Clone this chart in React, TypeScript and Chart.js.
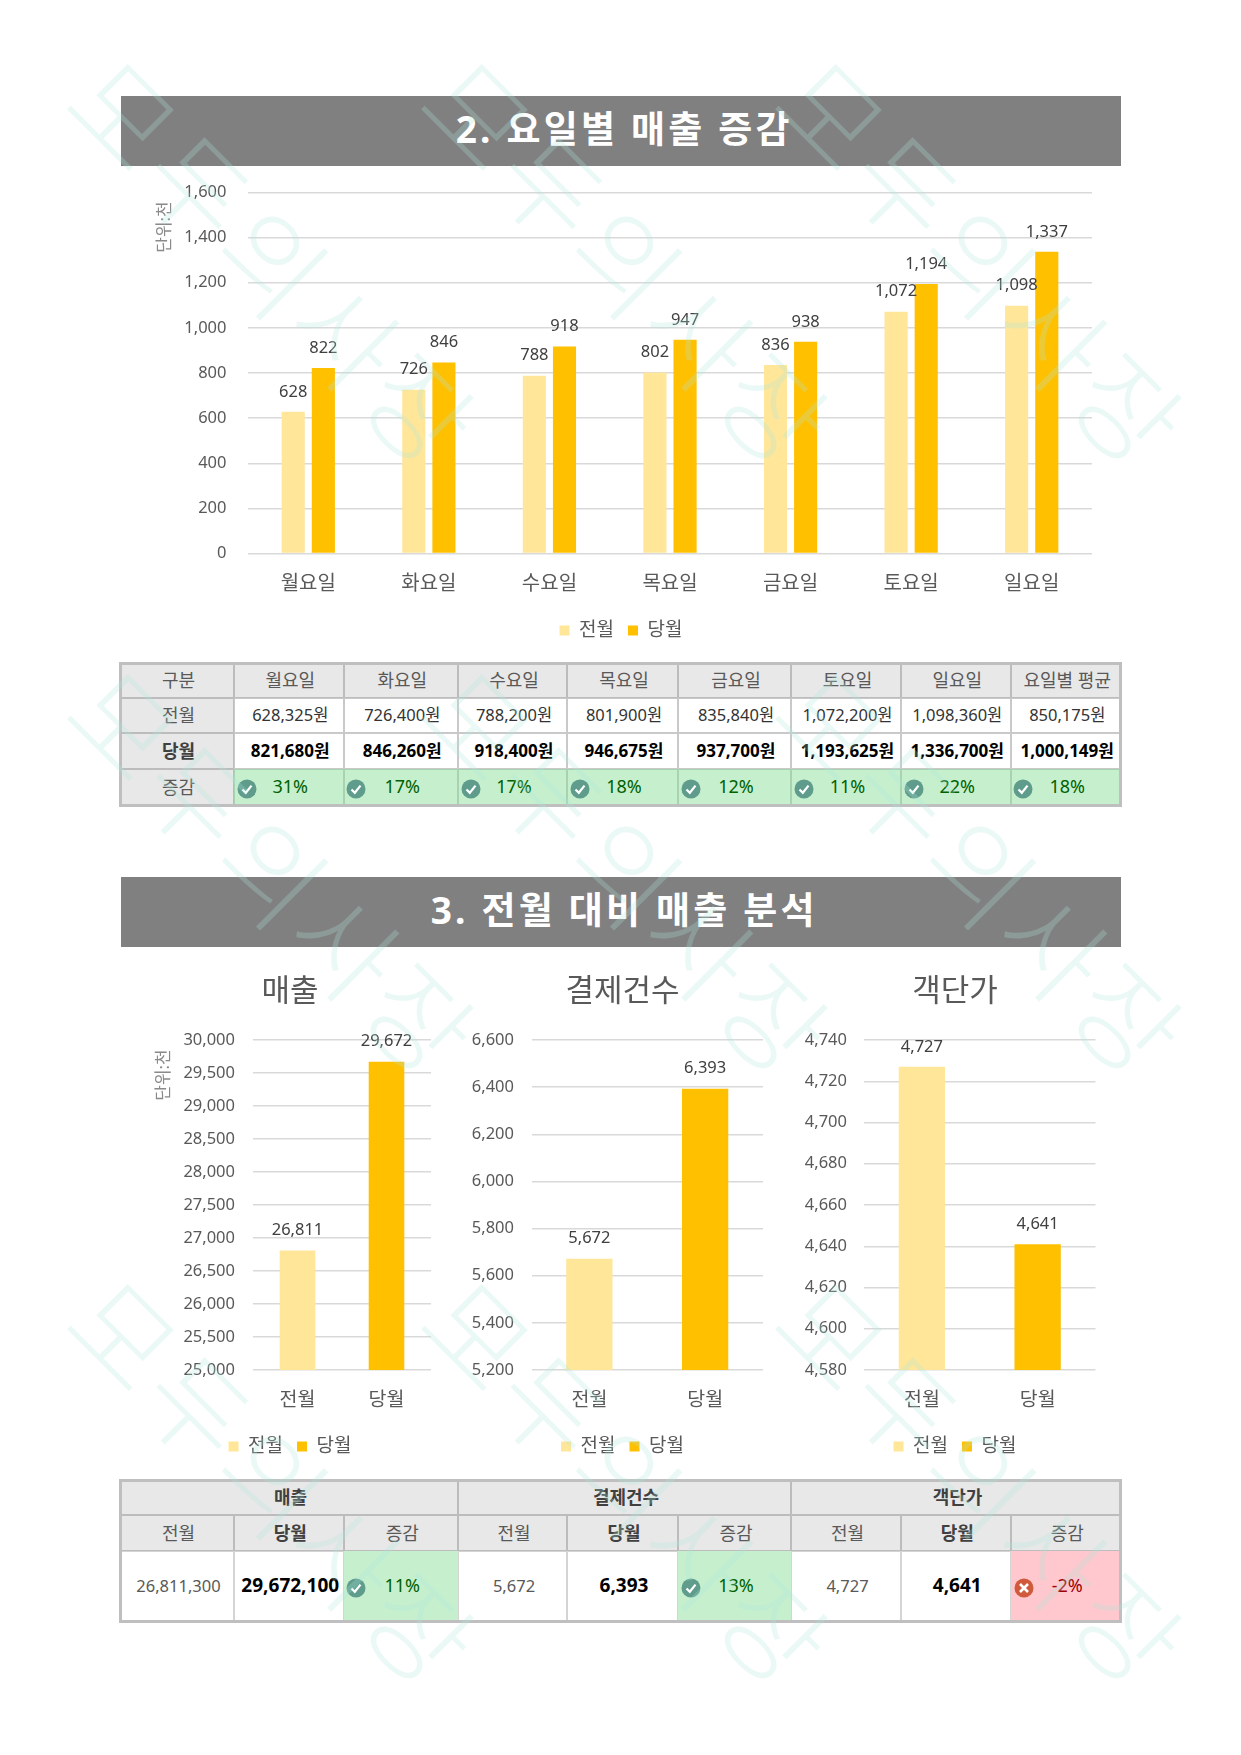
import React, { useEffect, useRef } from "react";
import { Chart, registerables } from "chart.js";

Chart.register(...registerables);

const FONT = "'Noto Sans', 'Noto Sans CJK KR', sans-serif";
const KFONT = "'Noto Sans', 'Noto Sans CJK KR', sans-serif";

const LIGHT = "#FFE699";
const GOLD = "#FFC000";
const GRID = "#d9d9d9";
const TICK = "#595959";

const weekdays = ["월요일", "화요일", "수요일", "목요일", "금요일", "토요일", "일요일"];
const prevDaily = [628, 726, 788, 802, 836, 1072, 1098];
const currDaily = [822, 846, 918, 947, 938, 1194, 1337];

const months = ["전월", "당월"];
const salesValues = [26811, 29672];
const countValues = [5672, 6393];
const unitValues = [4727, 4641];

const tableHeader = ["구분", "월요일", "화요일", "수요일", "목요일", "금요일", "토요일", "일요일", "요일별 평균"];
const tablePrev = ["628,325원", "726,400원", "788,200원", "801,900원", "835,840원", "1,072,200원", "1,098,360원", "850,175원"];
const tableCurr = ["821,680원", "846,260원", "918,400원", "946,675원", "937,700원", "1,193,625원", "1,336,700원", "1,000,149원"];
const tableDelta = ["31%", "17%", "17%", "18%", "12%", "11%", "22%", "18%"];

const colX = [120, 234, 343.5, 458, 567, 678, 791, 901, 1010.5, 1121];
const wmX = [277, 631, 985];
const wmY = [260, 870, 1480];

const labelPlugin = {
  id: "valueLabels",
  afterDatasetsDraw(chart: any) {
    const { ctx } = chart;
    ctx.save();
    ctx.font = `16.5px ${FONT}`;
    ctx.fillStyle = "#404040";
    ctx.textAlign = "center";
    ctx.textBaseline = "middle";
    chart.data.datasets.forEach((ds: any, di: number) => {
      chart.getDatasetMeta(di).data.forEach((el: any, i: number) => {
        ctx.fillText(Number(ds.data[i]).toLocaleString("en-US"), el.x, el.y - 20);
      });
    });
    ctx.restore();
  },
};

// Tick labels wider than the fixed axis box would otherwise be clipped to it.
const tickRoomPlugin = {
  id: "tickRoom",
  afterLayout(chart: any) {
    chart.scales.y.left = 0;
  },
};

function unitPlugin(x: number, dy: number) {
  return {
    id: "unitLabel",
    afterDraw(chart: any) {
      const { ctx, chartArea } = chart;
      ctx.save();
      ctx.translate(x, chartArea.top + dy);
      ctx.rotate(-Math.PI / 2);
      ctx.font = `17px ${KFONT}`;
      ctx.fillStyle = "#8a8a8a";
      ctx.textAlign = "center";
      ctx.textBaseline = "middle";
      ctx.fillText("단위:천", 0, 0);
      ctx.restore();
    },
  };
}

function baseOptions(o: any) {
  return {
    responsive: false,
    animation: false,
    locale: "en-US",
    layout: { autoPadding: false, padding: o.padding },
    plugins: {
      tooltip: { enabled: false },
      title: o.title
        ? {
            display: true,
            text: o.title,
            color: TICK,
            font: { family: KFONT, size: 31, weight: "normal" },
            padding: { top: 13.4, bottom: 29.4 },
          }
        : {
            display: true,
            text: "",
            font: { family: KFONT, size: 10, weight: "normal" },
            padding: { top: 0, bottom: 30.5 },
          },
      legend: {
        display: true,
        position: "bottom",
        labels: {
          boxWidth: 10,
          boxHeight: 10,
          padding: 14,
          color: TICK,
          font: { family: KFONT, size: 19 },
          ...(o.generateLabels ? { generateLabels: o.generateLabels } : {}),
        },
      },
    },
    scales: {
      x: {
        grid: { display: false, drawTicks: false },
        border: { display: false },
        ticks: { color: TICK, padding: o.xPad, font: { family: KFONT, size: o.xSize } },
        afterFit(s: any) {
          s.height = o.xHeight;
        },
      },
      y: {
        min: o.min,
        max: o.max,
        grid: { color: GRID, lineWidth: 1.5, drawTicks: false },
        border: { display: false },
        ticks: {
          stepSize: o.step,
          color: TICK,
          padding: o.yPad,
          autoSkip: false,
          font: { family: FONT, size: 16.5 },
        },
        afterFit(s: any) {
          s.width = o.yWidth;
        },
      },
    },
  };
}

function monthLegend() {
  return months.map((m, i) => ({
    text: m,
    fillStyle: i === 0 ? LIGHT : GOLD,
    strokeStyle: "transparent",
    lineWidth: 0,
    hidden: false,
    fontColor: TICK,
    index: i,
  }));
}

function CanvasChart({ left, top, width, height, build }: any) {
  const ref = useRef<HTMLCanvasElement | null>(null);
  useEffect(() => {
    const chart = new Chart(ref.current as any, build());
    return () => chart.destroy();
  }, []);
  return (
    <canvas
      ref={ref}
      width={width}
      height={height}
      style={{ position: "absolute", left, top, width, height, display: "block" }}
    />
  );
}

function dailyConfig() {
  return {
    type: "bar",
    data: {
      labels: weekdays,
      datasets: [
        { label: "전월", data: prevDaily, backgroundColor: LIGHT, borderWidth: 0, categoryPercentage: 0.5, barPercentage: 0.767 },
        { label: "당월", data: currDaily, backgroundColor: GOLD, borderWidth: 0, categoryPercentage: 0.5, barPercentage: 0.767 },
      ],
    },
    options: baseOptions({
      padding: { left: 29, right: 29, top: 0, bottom: 0 },
      min: 0,
      max: 1600,
      step: 200,
      xPad: 19,
      xSize: 20,
      xHeight: 53.5,
      yPad: 21.5,
      yWidth: 98,
    }),
    plugins: [labelPlugin, tickRoomPlugin, unitPlugin(44, 34.5)],
  };
}

function monthConfig(values: number[], o: any, plugins: any[]) {
  return {
    type: "bar",
    data: {
      labels: months,
      datasets: [
        {
          data: values,
          backgroundColor: [LIGHT, GOLD],
          borderWidth: 0,
          categoryPercentage: 1,
          barPercentage: 0.4,
        },
      ],
    },
    options: baseOptions({
      generateLabels: monthLegend,
      xPad: 19,
      xSize: 19.5,
      xHeight: 53,
      ...o,
    }),
    plugins: [labelPlugin, tickRoomPlugin, ...plugins],
  };
}

function CheckIcon({ left, top }: any) {
  return (
    <svg width="20" height="20" viewBox="0 0 20 20" style={{ position: "absolute", left, top }}>
      <circle cx="10" cy="10" r="9.5" fill="#5f9c8c" />
      <path d="M5.5 10.5 L8.8 13.8 L14.5 6.6" fill="none" stroke="#fff" strokeWidth="2.2" />
    </svg>
  );
}

function CrossIcon({ left, top }: any) {
  return (
    <svg width="20" height="20" viewBox="0 0 20 20" style={{ position: "absolute", left, top }}>
      <circle cx="10" cy="10" r="9.5" fill="#cf5a3c" />
      <path d="M6 6 L14 14 M14 6 L6 14" fill="none" stroke="#fff" strokeWidth="2.6" />
    </svg>
  );
}

function Cell({ x0, x1, y0, y1, text, bg, color, size, bold, icon, border }: any) {
  return (
    <div
      style={{
        position: "absolute",
        left: x0,
        top: y0,
        width: x1 - x0,
        height: y1 - y0,
        boxSizing: "border-box",
        border: `1px solid ${border || "#c9c9c9"}`,
        background: bg || "#fff",
        color: color || "#404040",
        fontSize: size || 17,
        fontWeight: bold ? 700 : 400,
        fontFamily: KFONT,
        display: "flex",
        alignItems: "center",
        justifyContent: "center",
        whiteSpace: "nowrap",
        paddingBottom: 3,
        paddingLeft: 3,
      }}
    >
      {text}
      {icon === "check" && <CheckIcon left={1.5} top={(y1 - y0) / 2 - 10} />}
      {icon === "cross" && <CrossIcon left={2} top={(y1 - y0) / 2 - 10} />}
    </div>
  );
}

const HEAD = "#e8e8e8";
const HB = "#bcbcbc";

function Frame({ x0, x1, y0, y1 }: any) {
  return (
    <div
      style={{
        position: "absolute",
        left: x0 - 1,
        top: y0 - 1,
        width: x1 - x0 + 2,
        height: y1 - y0 + 2,
        boxSizing: "border-box",
        border: "3px solid #bfbfbf",
      }}
    />
  );
}

function Banner({ top, text }: any) {
  return (
    <div
      style={{
        position: "absolute",
        left: 120.5,
        top,
        width: 1000.5,
        height: 70,
        boxSizing: "border-box",
        paddingBottom: 8,
        paddingLeft: 7,
        background: "#808080",
        color: "#fff",
        fontFamily: KFONT,
        fontWeight: 700,
        fontSize: 37,
        letterSpacing: 3.2,
        display: "flex",
        alignItems: "center",
        justifyContent: "center",
      }}
    >
      {text}
    </div>
  );
}

function DailyTable() {
  const rows = [663, 698, 733, 769, 806];
  const cells: any[] = [];
  tableHeader.forEach((t, i) =>
    cells.push(<Cell key={"h" + i} x0={colX[i]} x1={colX[i + 1]} y0={rows[0]} y1={rows[1]} text={t} bg={HEAD} border={HB} color={TICK} size={18} />)
  );
  cells.push(<Cell key="a" x0={colX[0]} x1={colX[1]} y0={rows[1]} y1={rows[2]} text="전월" bg={HEAD} border={HB} color={TICK} size={18} />);
  cells.push(<Cell key="b" x0={colX[0]} x1={colX[1]} y0={rows[2]} y1={rows[3]} text="당월" bg={HEAD} border={HB} color="#404040" size={18} bold />);
  cells.push(<Cell key="c" x0={colX[0]} x1={colX[1]} y0={rows[3]} y1={rows[4]} text="증감" bg={HEAD} border={HB} color={TICK} size={18} />);
  tablePrev.forEach((t, i) =>
    cells.push(<Cell key={"p" + i} x0={colX[i + 1]} x1={colX[i + 2]} y0={rows[1]} y1={rows[2]} text={t} size={16.5} color="#333" />)
  );
  tableCurr.forEach((t, i) =>
    cells.push(<Cell key={"q" + i} x0={colX[i + 1]} x1={colX[i + 2]} y0={rows[2]} y1={rows[3]} text={t} size={17} color="#000" bold />)
  );
  tableDelta.forEach((t, i) =>
    cells.push(<Cell key={"d" + i} x0={colX[i + 1]} x1={colX[i + 2]} y0={rows[3]} y1={rows[4]} text={t} size={18} color="#006100" bg="#c6efce" border="#a9d3b0" icon="check" />)
  );
  return (
    <>
      {cells}
      <Frame x0={colX[0]} x1={colX[9]} y0={rows[0]} y1={rows[4]} />
    </>
  );
}

const summaryHeads = ["매출", "결제건수", "객단가"];
const summaryPrev = ["26,811,300", "5,672", "4,727"];
const summaryCurr = ["29,672,100", "6,393", "4,641"];
const summaryDelta = ["11%", "13%", "-2%"];

function SummaryTable() {
  const rows = [1480, 1515, 1551, 1622];
  const cells: any[] = [];
  summaryHeads.forEach((h, g) => {
    const c = g * 3;
    cells.push(<Cell key={"g" + g} x0={colX[c]} x1={colX[c + 3]} y0={rows[0]} y1={rows[1]} text={h} bg={HEAD} border={HB} color="#404040" size={18} bold />);
    cells.push(<Cell key={"s1" + g} x0={colX[c]} x1={colX[c + 1]} y0={rows[1]} y1={rows[2]} text="전월" bg={HEAD} border={HB} color={TICK} size={18} />);
    cells.push(<Cell key={"s2" + g} x0={colX[c + 1]} x1={colX[c + 2]} y0={rows[1]} y1={rows[2]} text="당월" bg={HEAD} border={HB} color="#404040" size={18} bold />);
    cells.push(<Cell key={"s3" + g} x0={colX[c + 2]} x1={colX[c + 3]} y0={rows[1]} y1={rows[2]} text="증감" bg={HEAD} border={HB} color={TICK} size={18} />);
    cells.push(<Cell key={"v1" + g} x0={colX[c]} x1={colX[c + 1]} y0={rows[2]} y1={rows[3]} text={summaryPrev[g]} color={TICK} size={16.5} border="#d4d4d4" />);
    cells.push(<Cell key={"v2" + g} x0={colX[c + 1]} x1={colX[c + 2]} y0={rows[2]} y1={rows[3]} text={summaryCurr[g]} color="#000" size={19} bold border="#d4d4d4" />);
    const bad = summaryDelta[g].startsWith("-");
    cells.push(
      <Cell
        key={"v3" + g}
        x0={colX[c + 2]}
        x1={colX[c + 3]}
        y0={rows[2]}
        y1={rows[3]}
        text={summaryDelta[g]}
        size={18}
        color={bad ? "#9c0006" : "#006100"}
        bg={bad ? "#ffc7ce" : "#c6efce"}
        border={bad ? "#ffc7ce" : "#c6efce"}
        icon={bad ? "cross" : "check"}
      />
    );
  });
  return (
    <>
      {cells}
      <Frame x0={colX[0]} x1={colX[9]} y0={rows[0]} y1={rows[3]} />
    </>
  );
}

function Watermarks() {
  const items: any[] = [];
  wmY.forEach((y) =>
    wmX.forEach((x) =>
      items.push(
        <div
          key={x + "-" + y}
          style={{
            position: "absolute",
            left: x - 400,
            top: y - 100,
            width: 800,
            height: 200,
            lineHeight: "200px",
            textAlign: "center",
            transform: "rotate(45deg)",
            fontFamily: "'Noto Sans CJK KR'",
            fontWeight: 300,
            fontSize: 108,
            letterSpacing: 5,
            color: "rgba(173,233,222,0.26)",
            whiteSpace: "nowrap",
          }}
        >
          모두의사장
        </div>
      )
    )
  );
  return <>{items}</>;
}

export default function App() {
  return (
    <div
      style={{
        position: "absolute",
        left: 0,
        top: 0,
        width: 1241,
        height: 1755,
        overflow: "hidden",
        background: "#fff",
      }}
    >
      <Banner top={96} text="2. 요일별 매출 증감" />
      <CanvasChart left={121} top={150} width={1000} height={500} build={dailyConfig} />
      <DailyTable />
      <Banner top={877} text="3. 전월 대비 매출 분석" />
      <CanvasChart
        left={121}
        top={960}
        width={338}
        height={506}
        build={() =>
          monthConfig(
            salesValues,
            { title: "매출", padding: { left: 28, right: 28, top: 0, bottom: 0 }, min: 25000, max: 30000, step: 500, yPad: 18, yWidth: 104 },
            [unitPlugin(43.5, 35)]
          )
        }
      />
      <CanvasChart
        left={459}
        top={960}
        width={327}
        height={506}
        build={() =>
          monthConfig(countValues, {
            title: "결제건수",
            padding: { left: 23, right: 23, top: 0, bottom: 0 },
            min: 5200,
            max: 6600,
            step: 200,
            yPad: 17.5,
            yWidth: 49.5,
          }, [])
        }
      />
      <CanvasChart
        left={800}
        top={960}
        width={310}
        height={506}
        build={() =>
          monthConfig(unitValues, {
            title: "객단가",
            padding: { left: 14.5, right: 14.5, top: 0, bottom: 0 },
            min: 4580,
            max: 4740,
            step: 20,
            yPad: 17,
            yWidth: 49.5,
          }, [])
        }
      />
      <SummaryTable />
      <Watermarks />
    </div>
  );
}
